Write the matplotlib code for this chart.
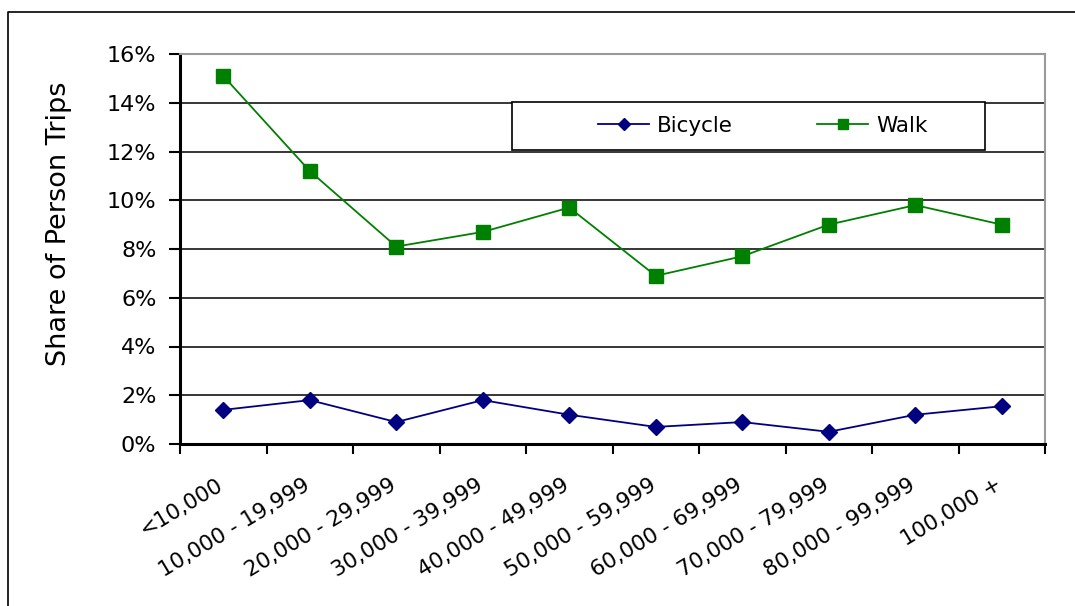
import matplotlib.pyplot as plt
from matplotlib.lines import Line2D
from matplotlib.patches import Rectangle
from matplotlib.transforms import ScaledTranslation
from matplotlib.ticker import FuncFormatter, MultipleLocator
import numpy as np

income = ["<10,000", "10,000 - 19,999", "20,000 - 29,999", "30,000 - 39,999",
          "40,000 - 49,999", "50,000 - 59,999", "60,000 - 69,999",
          "70,000 - 79,999", "80,000 - 99,999", "100,000 +"]
bicycle = [1.4, 1.8, 0.9, 1.8, 1.2, 0.7, 0.9, 0.5, 1.2, 1.55]
walk = [15.1, 11.2, 8.1, 8.7, 9.7, 6.9, 7.7, 9.0, 9.8, 9.0]

plt.rcParams["font.family"] = "DejaVu Sans"

fig = plt.figure(figsize=(10.75, 6.06), dpi=100)
ax = fig.add_axes([180 / 1075, 1 - 444 / 606, 865 / 1075, 390 / 606])

x = np.arange(len(income))
ax.plot(x, bicycle, color="#000080", marker="D", markersize=8, linewidth=1.3,
        label="Bicycle", zorder=3)
ax.plot(x, walk, color="#008000", marker="s", markersize=10, linewidth=1.3,
        label="Walk", zorder=3)

ax.set_xlim(-0.5, len(income) - 0.5)
ax.set_ylim(0, 16)
ax.yaxis.set_major_locator(MultipleLocator(2))
ax.yaxis.set_major_formatter(FuncFormatter(lambda v, p: f"{v:.0f}%"))
ax.grid(axis="y", color="black", linewidth=1.1)
ax.set_axisbelow(True)

# category ticks sit between the groups, labels at group centres
ax.set_xticks(np.arange(len(income) + 1) - 0.5)
ax.set_xticklabels([])
ax.set_xticks(x, minor=True)
ax.set_xticklabels(income, minor=True, rotation=31, ha="right", va="top",
                   rotation_mode="anchor", fontsize=15.5)
ax.tick_params(axis="x", which="minor", length=0, pad=22)
ax.tick_params(axis="x", which="major", length=7, width=1.5, direction="out")
ax.tick_params(axis="y", length=8, width=1.5, labelsize=16, pad=9)
shift = ScaledTranslation(-5 / 72, 0, fig.dpi_scale_trans)
for lbl in ax.get_xticklabels(minor=True):
    lbl.set_transform(lbl.get_transform() + shift)

for side in ["left", "bottom"]:
    ax.spines[side].set_linewidth(2.2)
    ax.spines[side].set_color("black")
for side in ["top", "right"]:
    ax.spines[side].set_linewidth(1.5)
    ax.spines[side].set_color("#999999")

ax.set_ylabel("Share of Person Trips", fontsize=19.5)
ax.yaxis.set_label_coords(-0.125, 0.564)

# legend box
ax.add_patch(Rectangle((0.384, 0.754), 0.547, 0.123, transform=ax.transAxes,
                       facecolor="white", edgecolor="black", linewidth=1.2,
                       zorder=4))
leg = ax.legend(loc="center", bbox_to_anchor=(0.4, 0.754, 0.547, 0.123),
                ncol=2, fontsize=15.5, frameon=False,
                handlelength=2.4, handletextpad=0.35, columnspacing=3.9,
                markerscale=0.75)
leg.set_zorder(5)

# outer chart border
fig.add_artist(Line2D([8 / 1075, 8 / 1075, 1.0], [0.0, 1 - 12 / 606, 1 - 12 / 606],
                      transform=fig.transFigure, color="black", linewidth=1.2))

fig.savefig("out.png", dpi=100)
